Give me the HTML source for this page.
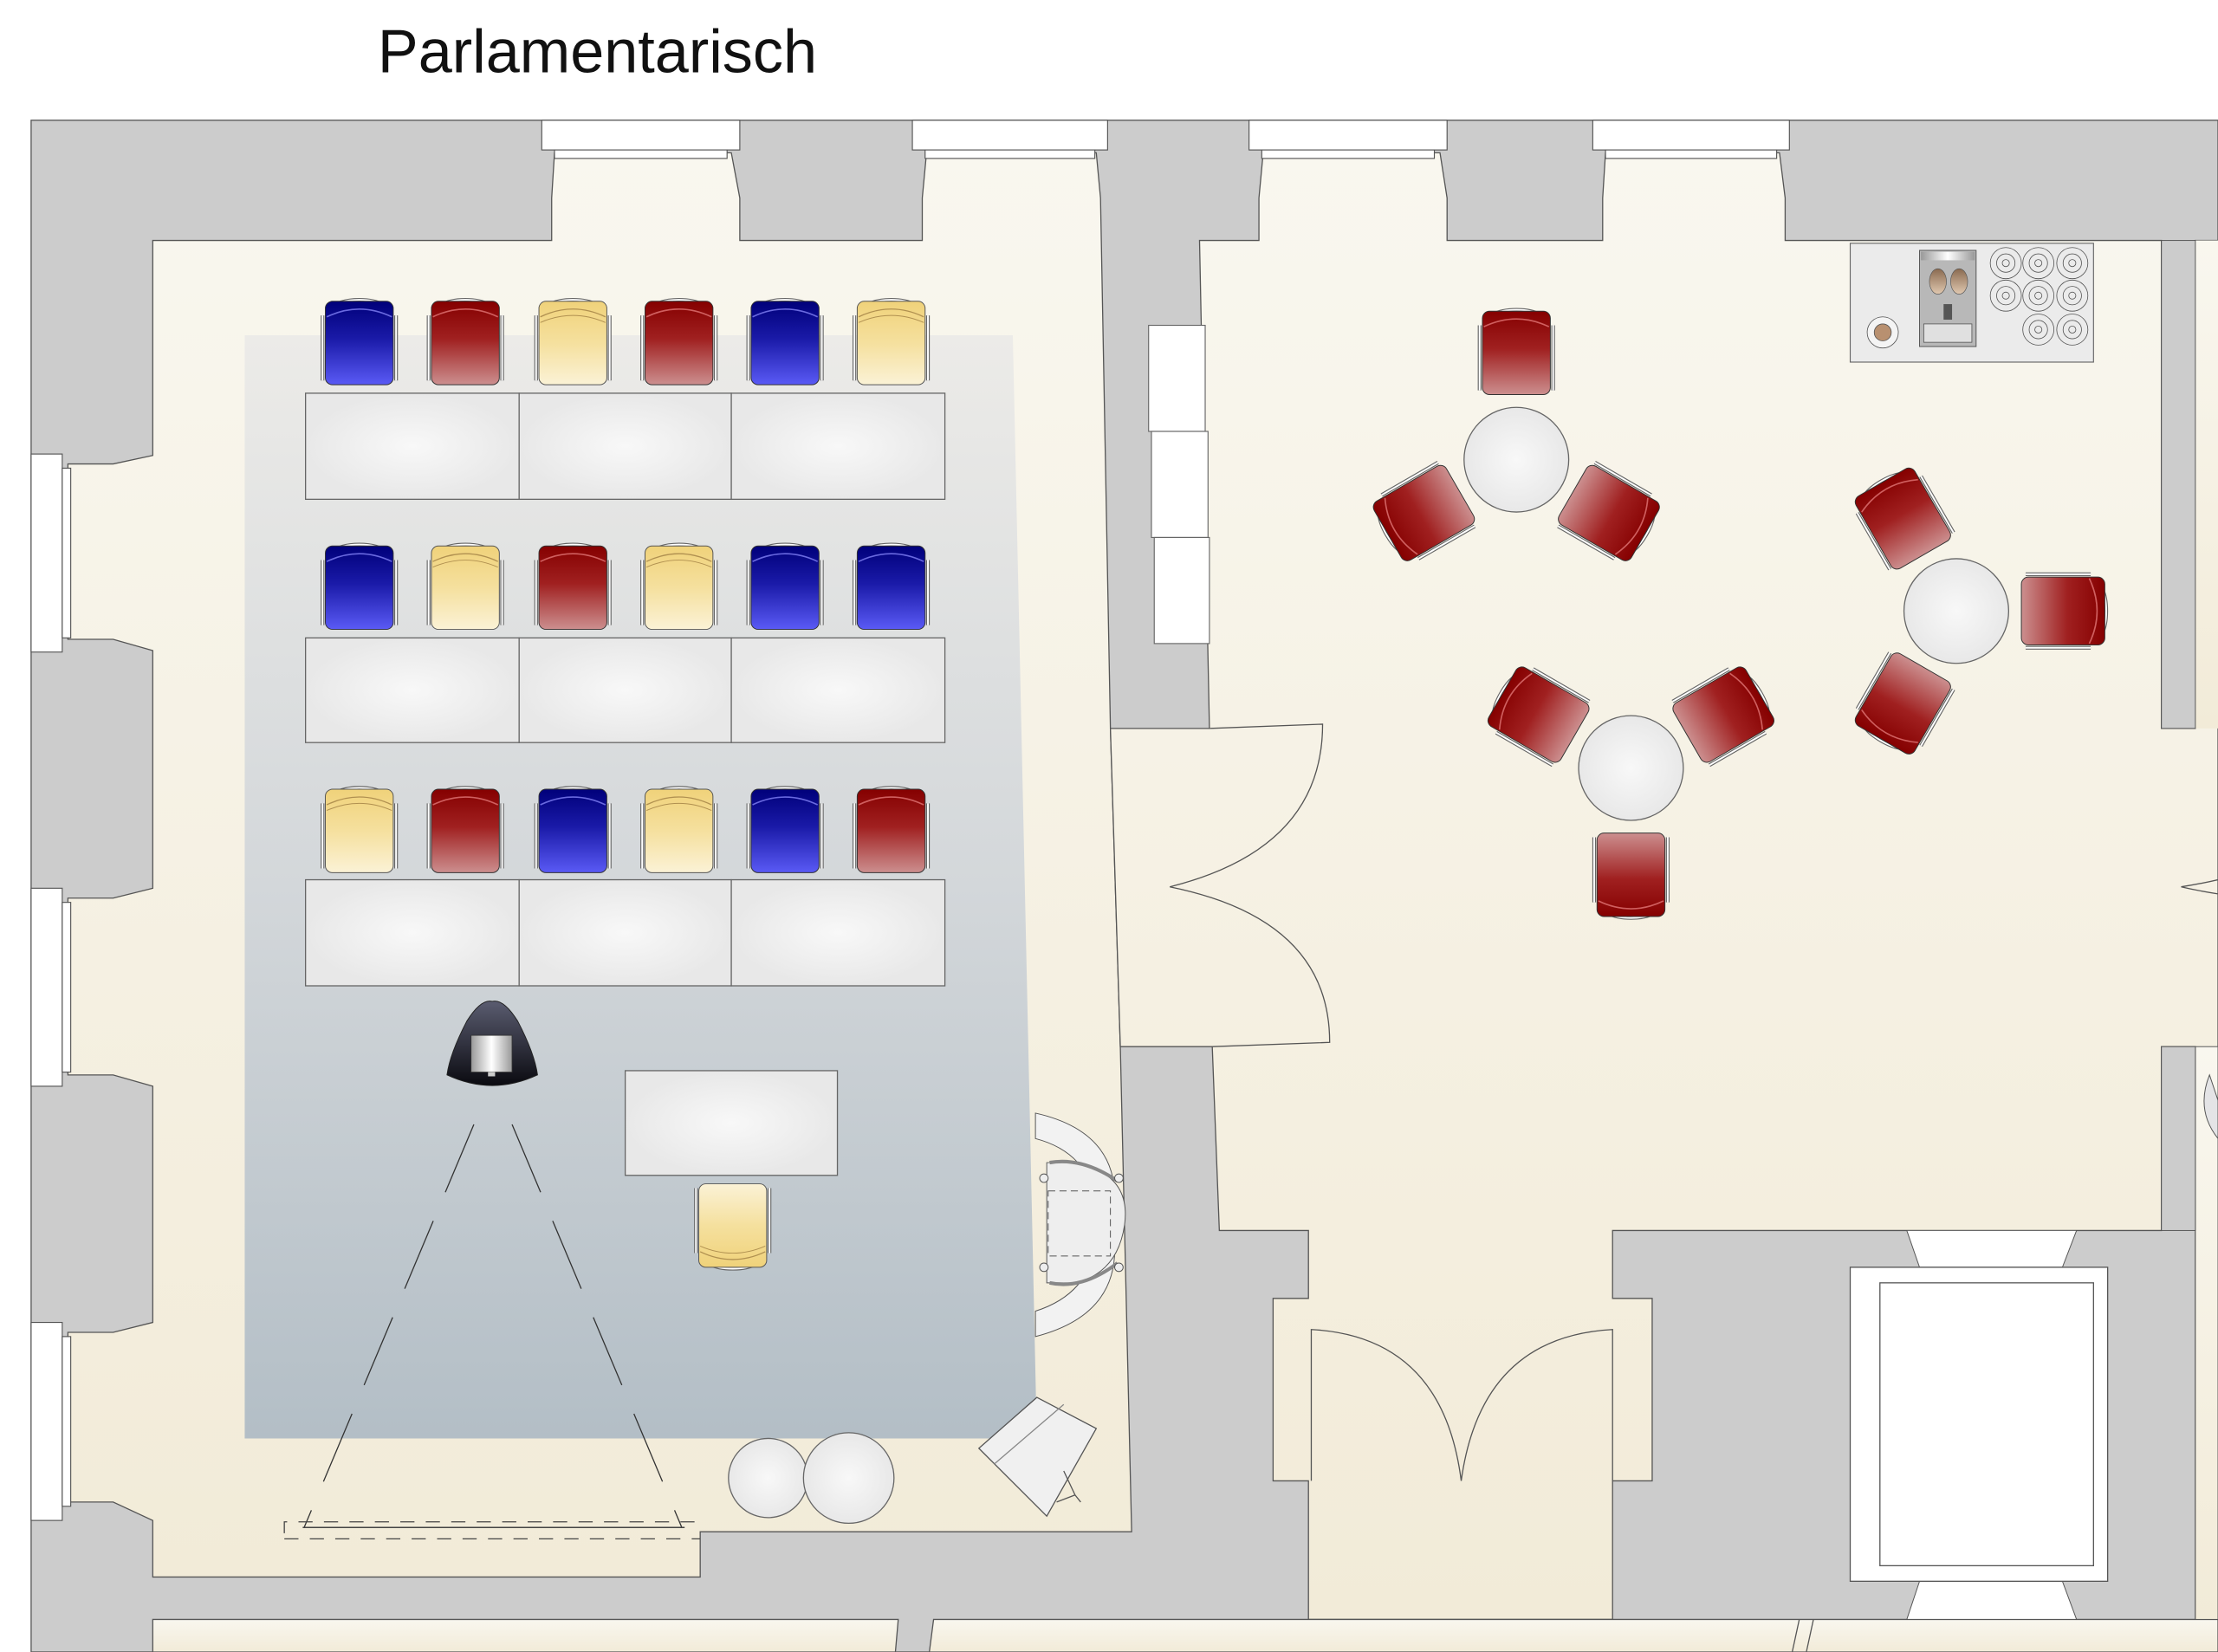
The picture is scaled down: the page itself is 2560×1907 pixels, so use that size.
<!DOCTYPE html>
<html><head><meta charset="utf-8"><style>
html,body{margin:0;padding:0;background:#fff;}
svg{display:block;}
</style></head><body>
<svg width="2560" height="1907" viewBox="0 0 1568 1168" xmlns="http://www.w3.org/2000/svg">
<defs>
<linearGradient id="floor" x1="0" y1="0" x2="0" y2="1"><stop offset="0" stop-color="#f9f7ef"/><stop offset="1" stop-color="#f2ebd8"/></linearGradient>
<linearGradient id="stage" x1="0" y1="0" x2="0" y2="1"><stop offset="0" stop-color="#ecebe8"/><stop offset="0.5" stop-color="#d3d7da"/><stop offset="1" stop-color="#b3bec6"/></linearGradient>
<radialGradient id="tbl"><stop offset="0" stop-color="#f8f8f8"/><stop offset="1" stop-color="#e8e8e8"/></radialGradient>
<linearGradient id="gB" x1="0" y1="0" x2="0" y2="1"><stop offset="0" stop-color="#00007a"/><stop offset="0.45" stop-color="#1a1aa8"/><stop offset="1" stop-color="#5a5af5"/></linearGradient>
<linearGradient id="gR" x1="0" y1="0" x2="0" y2="1"><stop offset="0" stop-color="#850000"/><stop offset="0.45" stop-color="#a02020"/><stop offset="1" stop-color="#cc8f8f"/></linearGradient>
<linearGradient id="gY" x1="0" y1="0" x2="0" y2="1"><stop offset="0" stop-color="#f0d27a"/><stop offset="0.5" stop-color="#f5e09e"/><stop offset="1" stop-color="#fbf2d6"/></linearGradient>
<linearGradient id="proj" x1="0" y1="0" x2="0" y2="1"><stop offset="0" stop-color="#5a5c70"/><stop offset="1" stop-color="#0a0a10"/></linearGradient>
<linearGradient id="met" x1="0" y1="0" x2="1" y2="0"><stop offset="0" stop-color="#999"/><stop offset="0.5" stop-color="#fff"/><stop offset="1" stop-color="#999"/></linearGradient>
<linearGradient id="bean" x1="0" y1="0" x2="0" y2="1"><stop offset="0" stop-color="#8a6a50"/><stop offset="1" stop-color="#e0c8b0"/></linearGradient>
<g id="frame">
<path d="M2,12 V58 M54,12 V58" stroke="#666" stroke-width="2.6" fill="none"/>
<path d="M2,12 V58 M54,12 V58" stroke="#fff" stroke-width="1.2" fill="none"/>
<path d="M6,14 Q7,1 28,1 Q49,1 50,14" stroke="#666" stroke-width="2.6" fill="none"/>
<path d="M6,14 Q7,1 28,1 Q49,1 50,14" stroke="#fff" stroke-width="1.2" fill="none"/>
</g>
<g id="cB"><use href="#frame"/><rect x="4" y="2" width="48" height="59" rx="5" fill="url(#gB)" stroke="#333" stroke-width="0.6"/><path d="M5,13 Q28,2 51,13" stroke="#6a6ae0" stroke-width="1" fill="none"/></g>
<g id="cR"><use href="#frame"/><rect x="4" y="2" width="48" height="59" rx="5" fill="url(#gR)" stroke="#333" stroke-width="0.6"/><path d="M5,13 Q28,2 51,13" stroke="#d06060" stroke-width="1" fill="none"/></g>
<g id="cY"><use href="#frame"/><rect x="4" y="2" width="48" height="59" rx="5" fill="url(#gY)" stroke="#555" stroke-width="0.6"/><path d="M5,13 Q28,2 51,13" stroke="#b09050" stroke-width="0.8" fill="none"/><path d="M5,17 Q28,7 51,17" stroke="#b09050" stroke-width="0.6" fill="none"/></g>
</defs>

<rect width="1568" height="1168" fill="#fff"/>
<text x="267" y="51" font-family="Liberation Sans, sans-serif" font-size="43" fill="#111">Parlamentarisch</text>

<rect x="22" y="85" width="1546" height="1083" fill="#cccccc" stroke="#555" stroke-width="0.8"/>

<g fill="url(#floor)" stroke="#555" stroke-width="0.8">
<path d="M108,170 H390 V140 L392,108 H517 L523,140 V170 H652 V140 L655,108 H775 L778,140 L785,515 L792,740 L800,1083 H495 V1115 H108 V1075 L80,1062 H48 V942 H80 L108,935 V768 L80,760 H48 V635 H80 L108,628 V460 L80,452 H48 V328 H80 L108,322 Z"/>
<path d="M848,170 H890 V140 L893,108 H1018 L1023,140 V170 H1133 V140 L1135,108 H1258 L1262,140 V170 H1528 V515 H1552 V170 H1568 V1145 H1552 V740 H1528 V870 H1140 V918 H1168 V1047 H1140 V1145 H925 V1047 H900 V918 H925 V870 H862 L857,740 L792,740 L785,515 L855,515 Z"/>
<path d="M108,1145 H635 L633,1168 H108 Z"/>
<path d="M660,1145 H1568 V1168 H657 Z"/>
</g>
<rect x="1552" y="170" width="16" height="345" fill="url(#floor)"/>
<rect x="1552" y="740" width="16" height="405" fill="url(#floor)" stroke="#555" stroke-width="0.6"/>
<rect x="1528" y="740" width="24" height="130" fill="#ccc" stroke="#555" stroke-width="0.6"/>
<rect x="1528" y="170" width="24" height="345" fill="#ccc" stroke="#555" stroke-width="0.6"/>
<path d="M1568,778 L1562,760 Q1552,785 1568,805 Z" fill="#e4e4e6" stroke="#555" stroke-width="0.6"/>

<g fill="#fff" stroke="#555" stroke-width="0.7">
<rect x="383" y="85" width="140" height="21"/><rect x="392" y="106" width="122" height="6"/>
<rect x="645" y="85" width="138" height="21"/><rect x="654" y="106" width="120" height="6"/>
<rect x="883" y="85" width="140" height="21"/><rect x="892" y="106" width="122" height="6"/>
<rect x="1126" y="85" width="139" height="21"/><rect x="1135" y="106" width="121" height="6"/>
<rect x="22" y="321" width="22" height="140"/><rect x="44" y="331" width="6" height="120"/>
<rect x="22" y="628" width="22" height="140"/><rect x="44" y="638" width="6" height="120"/>
<rect x="22" y="935" width="22" height="140"/><rect x="44" y="945" width="6" height="120"/>
</g>

<g fill="#fff" stroke="#666" stroke-width="0.7">
<rect x="812" y="230" width="40" height="75"/><rect x="814" y="305" width="40" height="75"/><rect x="816" y="380" width="39" height="75"/>
</g>

<g fill="none" stroke="#555" stroke-width="0.8">
<path d="M855,515 L935,512 Q935,600 827,627"/>
<path d="M857,740 L940,737 Q940,650 827,627"/>
<path d="M927,1047 V940 Q1020,945 1033,1047"/>
<path d="M1140,1047 V940 Q1047,945 1033,1047"/>
<path d="M1568,622 Q1555,625 1542,627 Q1555,630 1568,632"/>
<path d="M1272,1145 L1267,1168 M1282,1145 L1277,1168"/>
</g>

<path d="M1348,870 H1468 L1458,896 H1357 Z M1357,1118 H1458 L1468,1145 H1348 Z" fill="#fff" stroke="#555" stroke-width="0.6"/>
<rect x="1308" y="896" width="182" height="222" fill="#fff" stroke="#555" stroke-width="0.8"/>
<rect x="1329" y="907" width="151" height="200" fill="#fff" stroke="#555" stroke-width="0.8"/>

<path d="M173,237 H716 L733,1017 H173 Z" fill="url(#stage)"/>

<g stroke="#666" stroke-width="0.8" fill="url(#tbl)">
<rect x="216" y="278" width="151" height="75"/><rect x="367" y="278" width="150" height="75"/><rect x="517" y="278" width="151" height="75"/>
<rect x="216" y="451" width="151" height="74"/><rect x="367" y="451" width="150" height="74"/><rect x="517" y="451" width="151" height="74"/>
<rect x="216" y="622" width="151" height="75"/><rect x="367" y="622" width="150" height="75"/><rect x="517" y="622" width="151" height="75"/>
<rect x="442" y="757" width="150" height="74"/>
</g>

<g>
<use href="#cB" x="226" y="211"/><use href="#cR" x="301" y="211"/><use href="#cY" x="377" y="211"/><use href="#cR" x="452" y="211"/><use href="#cB" x="527" y="211"/><use href="#cY" x="602" y="211"/>
<use href="#cB" x="226" y="384"/><use href="#cY" x="301" y="384"/><use href="#cR" x="377" y="384"/><use href="#cY" x="452" y="384"/><use href="#cB" x="527" y="384"/><use href="#cB" x="602" y="384"/>
<use href="#cY" x="226" y="556"/><use href="#cR" x="301" y="556"/><use href="#cB" x="377" y="556"/><use href="#cY" x="452" y="556"/><use href="#cB" x="527" y="556"/><use href="#cR" x="602" y="556"/>
<use href="#cY" transform="translate(546,898) rotate(180)"/>
</g>

<path d="M348,708 Q340,706 330,722 Q318,745 316,760 Q348,775 380,760 Q378,745 366,722 Q356,706 348,708 Z" fill="url(#proj)" stroke="#222" stroke-width="0.6"/>
<rect x="333" y="732" width="29" height="26" fill="url(#met)" stroke="#333" stroke-width="0.5"/>
<rect x="345" y="758" width="5" height="3" fill="#ccc"/>
<g stroke="#333" stroke-width="0.8" stroke-dasharray="52,22" fill="none">
<path d="M335,795 L215,1080"/><path d="M362,795 L482,1080"/>
</g>
<path d="M214,1080 H484" stroke="#444" stroke-width="0.9"/>
<g stroke="#444" stroke-width="0.8" stroke-dasharray="10,8" fill="none">
<path d="M201,1084 V1076 H495"/><path d="M201,1088 H495"/>
</g>

<circle cx="543" cy="1045" r="28" fill="url(#tbl)" stroke="#666" stroke-width="0.8"/>
<circle cx="600" cy="1045" r="32" fill="url(#tbl)" stroke="#666" stroke-width="0.8"/>

<g stroke="#555" stroke-width="0.6">
<path d="M732,787 Q790,800 788,850 L775,852 Q770,815 732,805 Z M732,945 Q790,930 788,880 L775,878 Q770,915 732,927 Z" fill="#f2f2f2"/>
<path d="M740,822 H760 Q800,830 795,866 Q790,900 760,907 H740 Z" fill="#eee"/>
<rect x="741" y="842" width="44" height="46" fill="none" stroke-dasharray="5,3"/>
<path d="M742,822 Q765,818 790,835 M742,907 Q765,912 790,893" stroke="#888" stroke-width="2.5" fill="none"/>
<circle cx="738" cy="833" r="3" fill="#eee"/><circle cx="738" cy="896" r="3" fill="#eee"/>
<circle cx="791" cy="833" r="3" fill="#eee"/><circle cx="791" cy="896" r="3" fill="#eee"/>
</g>

<g stroke="#555" stroke-width="0.8">
<path d="M733,988 L775,1010 L740,1072 L692,1024 Z" fill="#f0f0f0"/>
<path d="M703,1035 L752,993" stroke="#888"/>
<path d="M747,1062 L760,1057 L752,1040 M760,1057 L764,1062" fill="none"/>
</g>

<g stroke="#666" stroke-width="0.8" fill="url(#tbl)">
<circle cx="1072" cy="325" r="37"/><circle cx="1383" cy="432" r="37"/><circle cx="1153" cy="543" r="37"/>
</g>
<g>
<use href="#cR" transform="translate(1072,325) rotate(0) translate(-28,-107)"/>
<use href="#cR" transform="translate(1072,325) rotate(120) translate(-28,-107)"/>
<use href="#cR" transform="translate(1072,325) rotate(240) translate(-28,-107)"/>
<use href="#cR" transform="translate(1153,543) rotate(180) translate(-28,-107)"/>
<use href="#cR" transform="translate(1153,543) rotate(300) translate(-28,-107)"/>
<use href="#cR" transform="translate(1153,543) rotate(60) translate(-28,-107)"/>
<use href="#cR" transform="translate(1383,432) rotate(90) translate(-28,-107)"/>
<use href="#cR" transform="translate(1383,432) rotate(330) translate(-28,-107)"/>
<use href="#cR" transform="translate(1383,432) rotate(210) translate(-28,-107)"/>
</g>

<rect x="1308" y="172" width="172" height="84" fill="#ebebeb" stroke="#666" stroke-width="0.7"/>
<rect x="1357" y="177" width="40" height="68" fill="#b8b8b8" stroke="#555" stroke-width="0.6"/>
<rect x="1358" y="178" width="38" height="6" fill="url(#met)"/>
<ellipse cx="1370" cy="199" rx="6" ry="9" fill="url(#bean)" stroke="#555" stroke-width="0.4"/>
<ellipse cx="1385" cy="199" rx="6" ry="9" fill="url(#bean)" stroke="#555" stroke-width="0.4"/>
<rect x="1374" y="215" width="6" height="11" fill="#555"/>
<rect x="1360" y="229" width="34" height="13" fill="#e0e0e0" stroke="#555" stroke-width="0.5"/>
<circle cx="1331" cy="235" r="11" fill="#f4f4f4" stroke="#555" stroke-width="0.5"/>
<circle cx="1331" cy="235" r="6" fill="#b89070" stroke="#555" stroke-width="0.5"/>
<g fill="none" stroke="#555" stroke-width="0.5">
<g id="cup"><circle cx="1418" cy="186" r="11"/><circle cx="1418" cy="186" r="6.5"/><circle cx="1418" cy="186" r="2.5"/></g>
<use href="#cup" x="23"/><use href="#cup" x="47"/>
<use href="#cup" y="23"/><use href="#cup" x="23" y="23"/><use href="#cup" x="47" y="23"/>
<use href="#cup" x="23" y="47"/><use href="#cup" x="47" y="47"/>
</g>
</svg>
</body></html>
